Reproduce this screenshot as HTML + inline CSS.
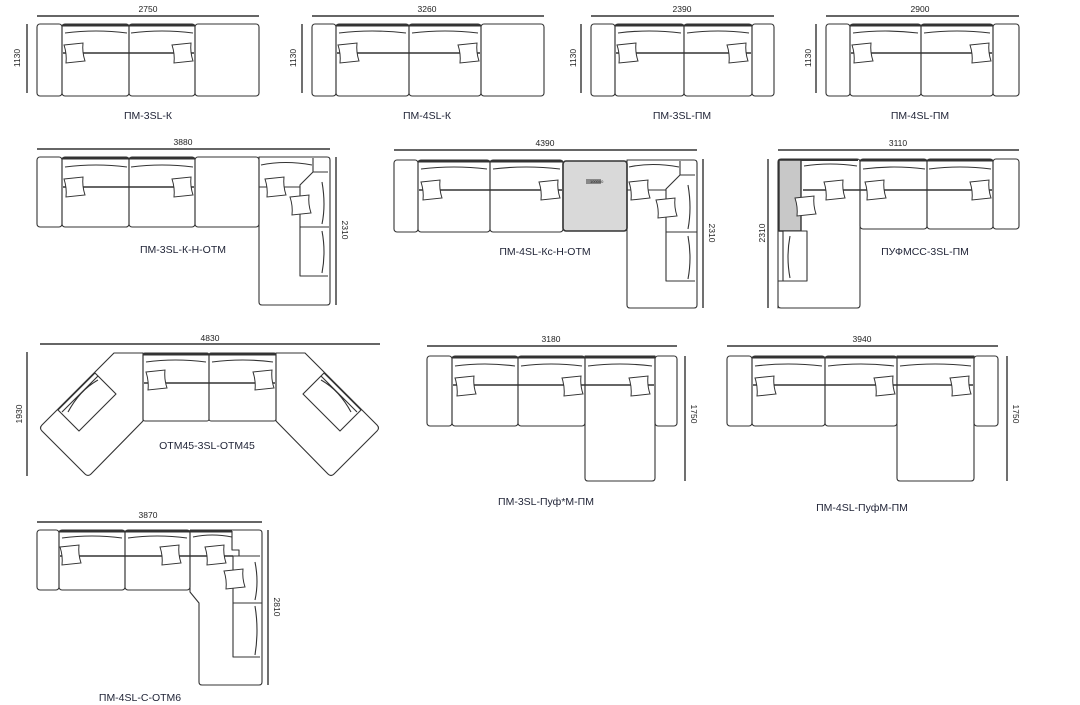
<!DOCTYPE html>
<html><head><meta charset="utf-8"><style>
html,body{margin:0;padding:0;background:#fff;}
svg{display:block;}
text{font-family:"Liberation Sans","DejaVu Sans",sans-serif;fill:#222;}
.d{font-size:8.5px;}
.c{font-size:10.5px;fill:#1e2235;}
</style></head><body>
<svg width="1080" height="705" viewBox="0 0 1080 705" xmlns="http://www.w3.org/2000/svg">
<defs>
<g id="p"><path d="M0 1 L19 -1 Q18 8 21 17 L2 19 Q3 10 0 1 Z" fill="#fff" stroke="#333" stroke-width="1"/></g>
</defs>
<g fill="none" stroke="#333" stroke-width="1.1" stroke-linejoin="round">

<!-- ===== Sofa 1 ===== -->
<path d="M37 16 H259" stroke-width="1.4"/><path d="M27 24 V93" stroke-width="1.4"/>
<rect x="37" y="24" width="25" height="72" rx="3"/>
<rect x="62" y="24" width="67" height="72" rx="3"/>
<rect x="129" y="24" width="66" height="72" rx="3"/>
<rect x="195" y="24" width="64" height="72" rx="3"/>
<path d="M62 25.5 H195" stroke-width="2"/>
<path d="M65 33 Q96 29 127 33 M131 33 Q162 29 193 33"/>
<path d="M63 53 H194" stroke-width="1.4"/>

<!-- ===== Sofa 2 ===== -->
<path d="M312 16 H544" stroke-width="1.4"/><path d="M302 24 V93" stroke-width="1.4"/>
<rect x="312" y="24" width="24" height="72" rx="3"/>
<rect x="336" y="24" width="73" height="72" rx="3"/>
<rect x="409" y="24" width="72" height="72" rx="3"/>
<rect x="481" y="24" width="63" height="72" rx="3"/>
<path d="M336 25.5 H481" stroke-width="2"/>
<path d="M339 33 Q372 29 406 33 M412 33 Q445 29 478 33"/>
<path d="M337 53 H480" stroke-width="1.4"/>

<!-- ===== Sofa 3 ===== -->
<path d="M591 16 H774" stroke-width="1.4"/><path d="M581 24 V93" stroke-width="1.4"/>
<rect x="591" y="24" width="24" height="72" rx="3"/>
<rect x="615" y="24" width="69" height="72" rx="3"/>
<rect x="684" y="24" width="68" height="72" rx="3"/>
<rect x="752" y="24" width="22" height="72" rx="3"/>
<path d="M615 25.5 H752" stroke-width="2"/>
<path d="M618 33 Q649 29 681 33 M687 33 Q718 29 749 33"/>
<path d="M616 53 H751" stroke-width="1.4"/>

<!-- ===== Sofa 4 ===== -->
<path d="M826 16 H1019" stroke-width="1.4"/><path d="M816 24 V93" stroke-width="1.4"/>
<rect x="826" y="24" width="24" height="72" rx="3"/>
<rect x="850" y="24" width="71" height="72" rx="3"/>
<rect x="921" y="24" width="72" height="72" rx="3"/>
<rect x="993" y="24" width="26" height="72" rx="3"/>
<path d="M850 25.5 H993" stroke-width="2"/>
<path d="M853 33 Q885 29 918 33 M924 33 Q957 29 990 33"/>
<path d="M851 53 H992" stroke-width="1.4"/>

<!-- ===== Sofa 5 ===== -->
<path d="M37 149 H330" stroke-width="1.4"/><path d="M336 157 V305" stroke-width="1.4"/>
<rect x="37" y="157" width="25" height="70" rx="3"/>
<rect x="62" y="157" width="67" height="70" rx="3"/>
<rect x="129" y="157" width="66" height="70" rx="3"/>
<rect x="195" y="157" width="64" height="70" rx="3"/>
<path d="M62 158.5 H195" stroke-width="2"/>
<path d="M65 167 Q96 163 127 167 M131 167 Q162 163 193 167"/>
<path d="M63 187 H194" stroke-width="1.4"/>
<path d="M259 227 V157 H327 Q330 157 330 160 V302 Q330 305 327 305 H262 Q259 305 259 302 Z"/>
<path d="M261 165 Q285 160 312 165"/>
<path d="M313 158 V172 H328 M313 172 L300 185 V276 H328 M259 187 H300"/>
<path d="M300 227 H329"/>
<path d="M322 182 Q326 205 322 224 M322 231 Q326 252 322 273"/>

<!-- ===== Sofa 6 ===== -->
<path d="M394 150 H697" stroke-width="1.4"/><path d="M703 159 V308" stroke-width="1.4"/>
<rect x="394" y="160" width="24" height="72" rx="3"/>
<rect x="418" y="160" width="72" height="72" rx="3"/>
<rect x="490" y="160" width="73" height="72" rx="3"/>
<rect x="563" y="161" width="64" height="70" rx="3" fill="#d9d9d9" stroke-width="1.6"/>
<rect x="586" y="179" width="15" height="5" fill="#888" stroke="none"/>
<path d="M418 161.5 H563" stroke-width="2"/>
<path d="M421 169 Q454 165 487 169 M493 169 Q526 165 560 169"/>
<path d="M419 190 H562" stroke-width="1.4"/>
<path d="M627 232 V160 H694 Q697 160 697 163 V305 Q697 308 694 308 H630 Q627 308 627 305 Z"/>
<path d="M629 167 Q652 162 679 167"/>
<path d="M680 161 V175 H695 M680 175 L666 189 V281 H695 M627 190 H666"/>
<path d="M666 232 H697"/>
<path d="M688 185 Q692 208 688 229 M688 236 Q692 258 688 279"/>

<!-- ===== Sofa 7 ===== -->
<path d="M778 150 H1019" stroke-width="1.4"/><path d="M768 159 V308" stroke-width="1.4"/>
<path d="M778 308 V162 Q778 159 781 159 H857 Q860 159 860 162 V305 Q860 308 857 308 H781 Q778 308 778 305 Z"/>
<rect x="779" y="160" width="22" height="71" fill="#c8c8c8" stroke-width="1.4"/>
<path d="M801 160 H858" stroke-width="2"/>
<path d="M804 166 Q830 162 857 166"/>
<path d="M803 190 H992" stroke-width="1.4"/>
<rect x="783" y="231" width="24" height="50" fill="#fff"/>
<path d="M790 236 Q786 257 790 278 M778 281 H807"/>
<rect x="860" y="159" width="67" height="70" rx="3"/>
<rect x="927" y="159" width="66" height="70" rx="3"/>
<rect x="993" y="159" width="26" height="70" rx="3"/>
<path d="M860 160.5 H993" stroke-width="2"/>
<path d="M863 169 Q894 165 925 169 M929 169 Q960 165 991 169"/>

<!-- ===== Sofa 8 ===== -->
<path d="M40 344 H380" stroke-width="1.4"/><path d="M27 352 V476" stroke-width="1.4"/>
<rect x="143" y="353" width="66" height="68" rx="2"/>
<rect x="209" y="353" width="67" height="68" rx="2"/>
<path d="M143 354.5 H276" stroke-width="2"/>
<path d="M146 362 Q175 358 206 362 M212 362 Q243 358 273 362"/>
<path d="M144 383 H275" stroke-width="1.4"/>
<path d="M114 353 H143 V421 L91 474 Q88 477 85 474 L42 431 Q39 428 42 425 Z"/>
<path d="M95 373 L116 394 L79 431 L58 410 Z"/>
<path d="M98 376 L62 412 M68 412 Q80 390 98 380"/>
<path d="M305 353 H276 V421 L328 474 Q331 477 334 474 L377 431 Q380 428 377 425 Z"/>
<path d="M324 373 L303 394 L340 431 L361 410 Z"/>
<path d="M321 376 L357 412 M351 412 Q339 390 321 380"/>

<!-- ===== Sofa 9 ===== -->
<path d="M427 346 H677" stroke-width="1.4"/><path d="M685 356 V481" stroke-width="1.4"/>
<rect x="427" y="356" width="25" height="70" rx="3"/>
<rect x="452" y="356" width="66" height="70" rx="3"/>
<rect x="518" y="356" width="67" height="70" rx="3"/>
<path d="M585 356 H655 V478 Q655 481 652 481 H588 Q585 481 585 478 Z"/>
<rect x="655" y="356" width="22" height="70" rx="3"/>
<path d="M452 357.5 H655" stroke-width="2"/>
<path d="M455 366 Q485 362 515 366 M521 366 Q551 362 582 366 M588 366 Q620 362 652 366"/>
<path d="M453 385 H654" stroke-width="1.4"/>

<!-- ===== Sofa 10 ===== -->
<path d="M727 346 H998" stroke-width="1.4"/><path d="M1007 356 V481" stroke-width="1.4"/>
<rect x="727" y="356" width="25" height="70" rx="3"/>
<rect x="752" y="356" width="73" height="70" rx="3"/>
<rect x="825" y="356" width="72" height="70" rx="3"/>
<path d="M897 356 H974 V478 Q974 481 971 481 H900 Q897 481 897 478 Z"/>
<rect x="974" y="356" width="24" height="70" rx="3"/>
<path d="M752 357.5 H974" stroke-width="2"/>
<path d="M755 366 Q788 362 822 366 M828 366 Q861 362 894 366 M900 366 Q935 362 971 366"/>
<path d="M753 385 H973" stroke-width="1.4"/>

<!-- ===== Sofa 11 ===== -->
<path d="M37 522 H262" stroke-width="1.4"/><path d="M268 530 V685" stroke-width="1.4"/>
<rect x="37" y="530" width="22" height="60" rx="3"/>
<rect x="59" y="530" width="66" height="60" rx="3"/>
<rect x="125" y="530" width="65" height="60" rx="3"/>
<path d="M190 530 H259 Q262 530 262 533 V682 Q262 685 259 685 H202 Q199 685 199 682 V603 L190 592 V530"/>
<path d="M59 531.5 H232" stroke-width="2"/>
<path d="M62 538 Q92 534 122 538 M128 538 Q157 534 187 538 M193 537 Q212 533 232 537"/>
<path d="M232 531 V550 H239 V556 M233 556 H260"/>
<path d="M60 556 H233" stroke-width="1.4"/>
<path d="M233 556 V657 H260 M233 603 H262"/>
<path d="M255 562 Q259 582 255 600 M255 606 Q259 630 255 655"/>
</g>

<!-- pillows -->
<use href="#p" x="64" y="44"/><use href="#p" x="172" y="44"/>
<use href="#p" x="338" y="44"/><use href="#p" x="458" y="44"/>
<use href="#p" x="617" y="44"/><use href="#p" x="727" y="44"/>
<use href="#p" x="852" y="44"/><use href="#p" x="970" y="44"/>
<use href="#p" x="64" y="178"/><use href="#p" x="172" y="178"/>
<use href="#p" x="265" y="178"/><use href="#p" x="290" y="196"/>
<use href="#p" x="421" y="181"/><use href="#p" x="539" y="181"/>
<use href="#p" x="629" y="181"/><use href="#p" x="656" y="199"/>
<use href="#p" x="824" y="181"/><use href="#p" x="865" y="181"/>
<use href="#p" x="970" y="181"/><use href="#p" x="795" y="197"/>
<use href="#p" x="146" y="371"/><use href="#p" x="253" y="371"/>
<use href="#p" x="455" y="377"/><use href="#p" x="562" y="377"/><use href="#p" x="629" y="377"/>
<use href="#p" x="755" y="377"/><use href="#p" x="874" y="377"/><use href="#p" x="950" y="377"/>
<use href="#p" x="60" y="546"/><use href="#p" x="160" y="546"/>
<use href="#p" x="205" y="546"/><use href="#p" x="224" y="570"/>

<!-- dimension labels -->
<text class="d" x="148" y="12" text-anchor="middle">2750</text>
<text class="d" x="427" y="12" text-anchor="middle">3260</text>
<text class="d" x="682" y="12" text-anchor="middle">2390</text>
<text class="d" x="920" y="12" text-anchor="middle">2900</text>
<text class="d" transform="translate(20,58) rotate(-90)" text-anchor="middle">1130</text>
<text class="d" transform="translate(296,58) rotate(-90)" text-anchor="middle">1130</text>
<text class="d" transform="translate(576,58) rotate(-90)" text-anchor="middle">1130</text>
<text class="d" transform="translate(811,58) rotate(-90)" text-anchor="middle">1130</text>
<text class="d" x="183" y="145" text-anchor="middle">3880</text>
<text class="d" x="545" y="146" text-anchor="middle">4390</text>
<text class="d" x="898" y="146" text-anchor="middle">3110</text>
<text class="d" transform="translate(342,230) rotate(90)" text-anchor="middle">2310</text>
<text class="d" transform="translate(709,233) rotate(90)" text-anchor="middle">2310</text>
<text class="d" transform="translate(765,233) rotate(-90)" text-anchor="middle">2310</text>
<text class="d" x="210" y="341" text-anchor="middle">4830</text>
<text class="d" x="551" y="342" text-anchor="middle">3180</text>
<text class="d" x="862" y="342" text-anchor="middle">3940</text>
<text class="d" transform="translate(22,414) rotate(-90)" text-anchor="middle">1930</text>
<text class="d" transform="translate(691,414) rotate(90)" text-anchor="middle">1750</text>
<text class="d" transform="translate(1013,414) rotate(90)" text-anchor="middle">1750</text>
<text class="d" x="148" y="518" text-anchor="middle">3870</text>
<text class="d" transform="translate(274,607) rotate(90)" text-anchor="middle">2810</text>
<text x="590" y="183" font-size="4" fill="#444">100000</text>

<!-- captions -->
<text class="c" x="148" y="119" text-anchor="middle">ПМ-3SL-К</text>
<text class="c" x="427" y="119" text-anchor="middle">ПМ-4SL-К</text>
<text class="c" x="682" y="119" text-anchor="middle">ПМ-3SL-ПМ</text>
<text class="c" x="920" y="119" text-anchor="middle">ПМ-4SL-ПМ</text>
<text class="c" x="183" y="253" text-anchor="middle">ПМ-3SL-К-Н-ОТМ</text>
<text class="c" x="545" y="255" text-anchor="middle">ПМ-4SL-Кс-Н-ОТМ</text>
<text class="c" x="925" y="255" text-anchor="middle">ПУФМСС-3SL-ПМ</text>
<text class="c" x="207" y="449" text-anchor="middle">ОТМ45-3SL-ОТМ45</text>
<text class="c" x="546" y="505" text-anchor="middle">ПМ-3SL-Пуф*М-ПМ</text>
<text class="c" x="862" y="511" text-anchor="middle">ПМ-4SL-ПуфМ-ПМ</text>
<text class="c" x="140" y="701" text-anchor="middle">ПМ-4SL-С-ОТМ6</text>
</svg>
</body></html>
